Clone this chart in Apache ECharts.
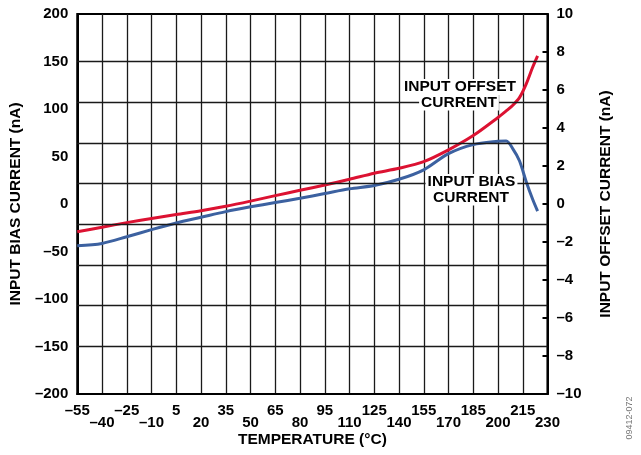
<!DOCTYPE html>
<html>
<head>
<meta charset="utf-8">
<script src="https://cdn.jsdelivr.net/npm/echarts@6/dist/echarts.min.js"></script>
<style>
  html, body { margin: 0; padding: 0; background: #fff; }
  #chart { width: 641px; height: 455px; }
</style>
</head>
<body>
<div id="chart"></div>
<script>
// Temperature sweep (°C)
const temps = [-55, -40, -25, -10, 5, 20, 35, 50, 65, 80, 95, 110, 125, 140, 155, 170, 185, 200, 205, 209, 213, 217, 221, 224];
// Input bias current (nA), left axis
const biasCurrent = [-44, -41.5, -34.5, -27, -20, -14, -8, -3, 1.5, 6, 11, 16, 19.5, 26, 36, 53, 62.5, 66, 66.3, 58, 45.5, 24, 5, -7.5];
// Input offset current (nA), right axis
const offsetCurrent = [-1.46, -1.22, -0.98, -0.76, -0.55, -0.35, -0.12, 0.15, 0.44, 0.72, 1.0, 1.3, 1.62, 1.88, 2.23, 2.85, 3.6, 4.55, 4.9, 5.2, 5.6, 6.3, 7.2, 7.8];

// Axis ticks
const tempTicks = [-55, -40, -25, -10, 5, 20, 35, 50, 65, 80, 95, 110, 125, 140, 155, 170, 185, 200, 215, 230];
const biasTicks = [-200, -150, -100, -50, 0, 50, 100, 150, 200];
const offsetTicks = [-10, -8, -6, -4, -2, 0, 2, 4, 6, 8, 10];
// Horizontal grid levels, in left-axis units
const gridLevels = [150, 107.1, 64.3, 21.4, -21.4, -64.3, -107.1, -150];

const FONT = '"Liberation Sans", Arial, sans-serif';
const fmt = v => (v < 0 ? '\u2013' + Math.abs(v) : String(v));
const pairs = (xs, ys) => xs.map((x, i) => [x, ys[i]]);

const chart = echarts.init(document.getElementById('chart'), null, { renderer: 'canvas' });

const labelStyle = { fontFamily: FONT, fontWeight: 'bold', fontSize: 15, color: '#000' };
const nameStyle = { fontFamily: FONT, fontWeight: 'bold', fontSize: 15.5, color: '#000' };

const tempRange = {
  type: 'value', position: 'bottom',
  min: tempTicks[0], max: tempTicks[tempTicks.length - 1],
  interval: tempTicks[1] - tempTicks[0]
};

// Temperature labels alternate between two rows
const rowLabels = (row, margin) => Object.assign({}, labelStyle, {
  margin, hideOverlap: false, showMinLabel: true, showMaxLabel: true,
  formatter: v => (tempTicks.indexOf(v) % 2 === row ? fmt(v) : '')
});

chart.setOption({
  animation: false,
  backgroundColor: '#fff',
  grid: {
    left: 70.5, right: 93.5, top: 14, bottom: 61,
    show: true, borderColor: '#000', borderWidth: 2, backgroundColor: 'transparent'
  },
  xAxis: [
    Object.assign({}, tempRange, {
      name: 'TEMPERATURE (°C)', nameLocation: 'middle', nameGap: 38,
      nameTextStyle: nameStyle,
      axisLine: { show: true, onZero: false, lineStyle: { color: '#000', width: 2 } },
      axisTick: { show: false },
      splitLine: { show: true, lineStyle: { color: '#1a1a1a', width: 1.3 } },
      axisLabel: rowLabels(0, 9)
    }),
    Object.assign({}, tempRange, {
      axisLine: { show: false, onZero: false },
      axisTick: { show: false },
      splitLine: { show: false },
      axisLabel: rowLabels(1, 21)
    })
  ],
  yAxis: [
    {
      type: 'value', position: 'left',
      min: biasTicks[0], max: biasTicks[biasTicks.length - 1],
      interval: biasTicks[1] - biasTicks[0],
      name: 'INPUT BIAS CURRENT (nA)', nameLocation: 'middle', nameGap: 48, nameRotate: 90,
      nameTextStyle: nameStyle,
      axisLine: { show: true, onZero: false, lineStyle: { color: '#000', width: 2 } },
      axisTick: { show: false },
      splitLine: { show: false },
      axisLabel: Object.assign({}, labelStyle, { margin: 9, formatter: fmt })
    },
    {
      type: 'value', position: 'right',
      min: offsetTicks[0], max: offsetTicks[offsetTicks.length - 1],
      interval: offsetTicks[1] - offsetTicks[0],
      name: 'INPUT OFFSET CURRENT (nA)', nameLocation: 'middle', nameGap: 50, nameRotate: 90,
      nameTextStyle: nameStyle,
      axisLine: { show: true, onZero: false, lineStyle: { color: '#000', width: 2 } },
      axisTick: { show: true, inside: true, length: 5, lineStyle: { color: '#000', width: 2 } },
      splitLine: { show: false },
      axisLabel: Object.assign({}, labelStyle, { margin: 9, formatter: fmt })
    }
  ],
  series: [
    {
      name: 'grid',
      type: 'line', yAxisIndex: 0, data: [], z: 1, silent: true,
      markLine: {
        silent: true, symbol: 'none', animation: false,
        label: { show: false },
        lineStyle: { color: '#1a1a1a', width: 1.3, type: 'solid' },
        data: gridLevels.map(v => ({ yAxis: v }))
      }
    },
    {
      name: 'INPUT BIAS CURRENT',
      type: 'line', yAxisIndex: 0, z: 3,
      data: pairs(temps, biasCurrent),
      smooth: 0.3, showSymbol: false,
      lineStyle: { color: '#3c61a0', width: 3 }
    },
    {
      name: 'INPUT OFFSET CURRENT',
      type: 'line', yAxisIndex: 1, z: 4,
      data: pairs(temps, offsetCurrent),
      smooth: 0.3, showSymbol: false,
      lineStyle: { color: '#dc1232', width: 3 }
    }
  ],
  graphic: [
    ['INPUT OFFSET', 460, 87],
    ['CURRENT', 459, 102.5],
    ['INPUT BIAS', 471.5, 182],
    ['CURRENT', 471, 197.5]
  ].map(([t, x, y]) => ({
    type: 'text', x, y, z: 10,
    style: {
      text: t, align: 'center', verticalAlign: 'middle',
      font: 'bold 15.5px ' + FONT, fill: '#000',
      backgroundColor: '#fff', padding: [0, 2]
    }
  })).concat([{
    type: 'text', x: 630, y: 418, rotation: Math.PI / 2, z: 10,
    style: {
      text: '09412-072', align: 'center', verticalAlign: 'middle',
      font: '9px ' + FONT, fill: '#777'
    }
  }])
});
</script>
</body>
</html>
